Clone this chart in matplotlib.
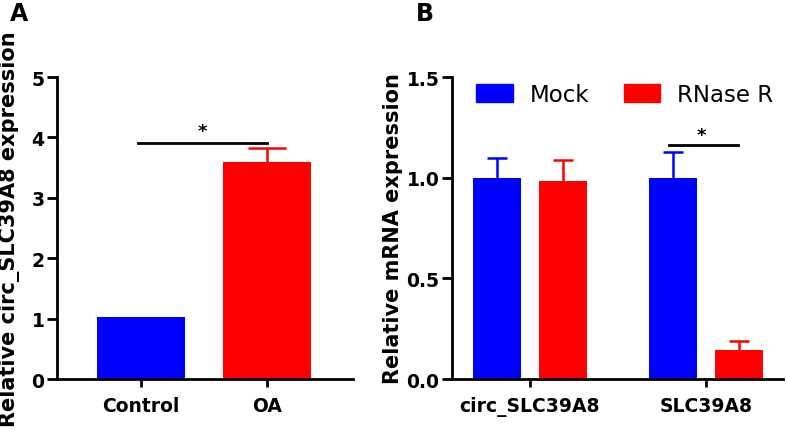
import matplotlib
matplotlib.use('Agg')
import matplotlib.pyplot as plt
from matplotlib.patches import Patch
import numpy as np

plt.rcParams['font.family'] = ['DejaVu Sans']
plt.rcParams['font.weight'] = 'bold'

# panel A data
a_groups = ['Control', 'OA']
a_means = [1.02, 3.59]
a_err = [0.0, 0.23]
a_colors = ['#0000ff', '#ff0000']

# panel B data
b_groups = ['circ_SLC39A8', 'SLC39A8']
b_mock = [1.00, 1.00]
b_mock_err = [0.10, 0.13]
b_rnase = [0.985, 0.145]
b_rnase_err = [0.105, 0.045]
b_series = ['Mock', 'RNase R']

blue = '#0000ff'
red = '#ff0000'

fig = plt.figure(figsize=(7.87, 4.31), dpi=100)
ax_a = fig.add_axes([0.0724, 0.1183, 0.3761, 0.7007])
ax_b = fig.add_axes([0.5743, 0.1183, 0.4207, 0.7007])


def style_axis(ax):
    ax.spines['top'].set_visible(False)
    ax.spines['right'].set_visible(False)
    for s in ['left', 'bottom']:
        ax.spines[s].set_linewidth(2)
    ax.tick_params(axis='y', direction='out', width=2, length=7,
                   labelsize=13.5, pad=2)
    ax.tick_params(axis='x', direction='out', width=2, length=6,
                   labelsize=13.5, pad=6)
    for lab in ax.get_xticklabels() + ax.get_yticklabels():
        lab.set_fontweight('bold')


# ---- panel A
# symmetric error bars sit behind the bars, so only the upper half shows
xa = np.arange(len(a_groups))
for i in range(len(a_groups)):
    ax_a.bar(xa[i], a_means[i], width=0.70, color=a_colors[i], zorder=2)
    if a_err[i] > 0:
        ax_a.errorbar(xa[i], a_means[i], yerr=a_err[i], fmt='none',
                      ecolor=a_colors[i], elinewidth=1.8, capsize=14,
                      capthick=1.8, zorder=1)
ax_a.set_xlim(-0.667, 1.683)
ax_a.set_ylim(0, 5)
ax_a.set_yticks([0, 1, 2, 3, 4, 5])
ax_a.set_xticks(xa)
ax_a.set_xticklabels(a_groups)
ax_a.set_ylabel('Relative circ_SLC39A8 expression', fontsize=15,
                fontweight='bold')
ax_a.yaxis.set_label_coords(-0.125, 0.5)
style_axis(ax_a)
ax_a.plot([-0.02, 1.0], [3.91, 3.91], color='black', lw=2, clip_on=False)
ax_a.text(0.49, 3.95, '*', ha='center', va='bottom', fontsize=13,
          fontweight='bold')

# ---- panel B
xb = np.arange(len(b_groups))
off = 0.1875
w = 0.273
ax_b.bar(xb - off, b_mock, width=w, color=blue, zorder=2)
ax_b.bar(xb + off, b_rnase, width=w, color=red, zorder=2)
ax_b.errorbar(xb - off, b_mock, yerr=b_mock_err, fmt='none',
              ecolor=blue, elinewidth=1.8, capsize=7.5, capthick=1.8,
              zorder=1)
ax_b.errorbar(xb + off, b_rnase, yerr=b_rnase_err, fmt='none',
              ecolor=red, elinewidth=1.8, capsize=7.5, capthick=1.8,
              zorder=1)
ax_b.set_xlim(-0.443, 1.4375)
ax_b.set_ylim(0, 1.5)
ax_b.set_yticks([0.0, 0.5, 1.0, 1.5])
ax_b.set_yticklabels(['0.0', '0.5', '1.0', '1.5'])
ax_b.set_xticks(xb)
ax_b.set_xticklabels(b_groups)
ax_b.set_ylabel('Relative mRNA expression', fontsize=15, fontweight='bold')
ax_b.yaxis.set_label_coords(-0.148, 0.5)
style_axis(ax_b)
ax_b.plot([1 - 0.21, 1 + 0.18], [1.16, 1.16], color='black', lw=2)
ax_b.text(0.975, 1.165, '*', ha='center', va='bottom', fontsize=13,
          fontweight='bold')

handles = [Patch(facecolor=blue, edgecolor=blue, label=b_series[0]),
           Patch(facecolor=red, edgecolor=red, label=b_series[1])]
leg = ax_b.legend(handles=handles, loc='upper left', ncol=2, frameon=False,
                  bbox_to_anchor=(0.0725, 0.98), fontsize=16.5,
                  borderpad=0, borderaxespad=0, handlelength=1.6,
                  handleheight=0.83, handletextpad=0.74, columnspacing=1.5)
for t in leg.get_texts():
    t.set_fontweight('normal')

fig.text(0.012, 0.995, 'A', fontsize=17, fontweight='bold', va='top')
fig.text(0.528, 0.995, 'B', fontsize=17, fontweight='bold', va='top')

fig.savefig('out.png', dpi=100)
